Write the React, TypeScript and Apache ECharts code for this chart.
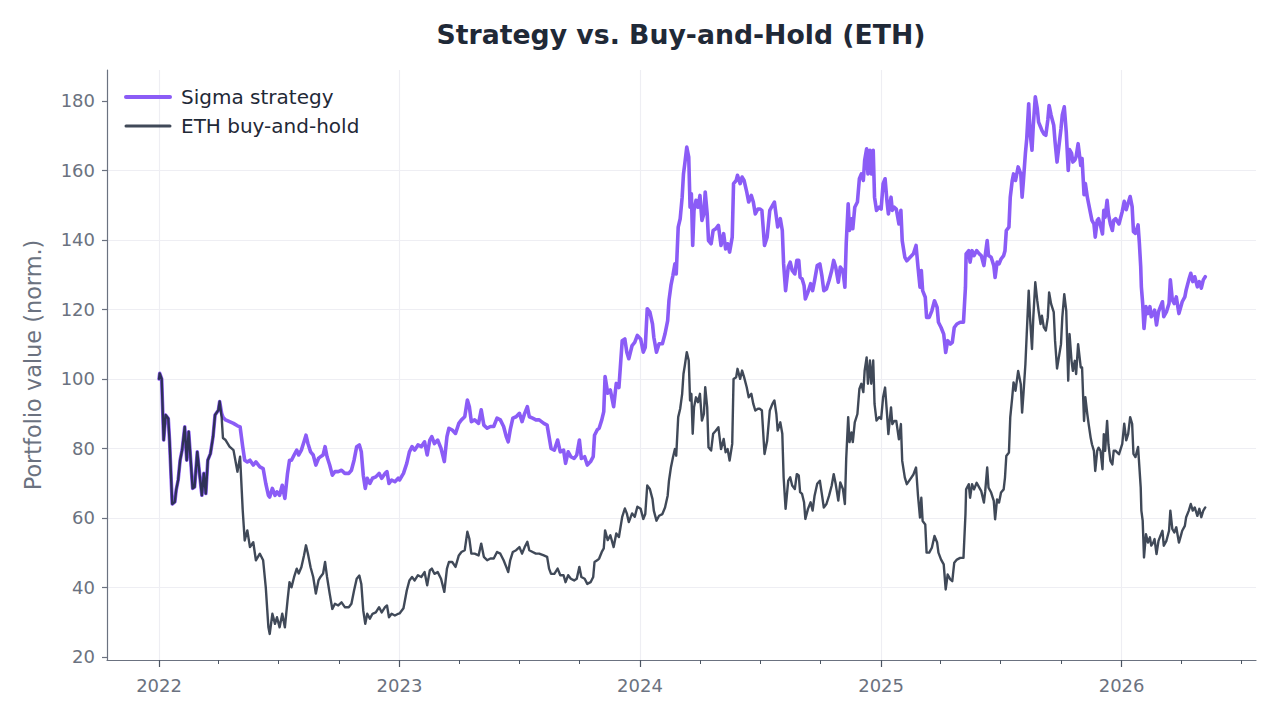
import { useEffect, useRef } from "react";
import * as echarts from "echarts";

// [date, sigma strategy, eth buy-and-hold]
type Row = [string, number, number];

const ROWS_2022: Row[] = [
  ["2022-01-01", 100, 100], ["2022-01-02", 101.6, 101.6], ["2022-01-05", 100, 100],
  ["2022-01-08", 82.4, 82.4], ["2022-01-11", 89.6, 89.6], ["2022-01-15", 88.6, 88.6],
  ["2022-01-17", 82, 82], ["2022-01-21", 64, 64], ["2022-01-25", 64.6, 64.6],
  ["2022-01-27", 68, 68], ["2022-01-30", 70.9, 70.9], ["2022-02-02", 76.6, 76.6],
  ["2022-02-05", 79.5, 79.5], ["2022-02-09", 86.2, 86.2], ["2022-02-12", 76.6, 76.6],
  ["2022-02-15", 84.8, 84.8], ["2022-02-18", 76.6, 76.6], ["2022-02-21", 68.5, 68.5],
  ["2022-02-24", 68.9, 68.9], ["2022-02-28", 79, 79], ["2022-03-04", 71.8, 71.8],
  ["2022-03-07", 66.5, 66.5], ["2022-03-10", 72.8, 72.8], ["2022-03-13", 67, 67],
  ["2022-03-16", 76.6, 76.6], ["2022-03-20", 78.5, 78.5], ["2022-03-24", 83.4, 83.4],
  ["2022-03-27", 89.6, 89.6], ["2022-04-01", 91, 91], ["2022-04-03", 93.5, 93.5],
  ["2022-04-06", 90.1, 89], ["2022-04-08", 89, 83], ["2022-04-12", 88.2, 82.4],
  ["2022-04-18", 87.7, 80.5], ["2022-04-24", 87.2, 79.5], ["2022-04-30", 86.5, 73.3],
  ["2022-05-04", 86.2, 77.6], ["2022-05-08", 80.5, 62.2], ["2022-05-11", 76.6, 53.5],
  ["2022-05-15", 76.1, 56.4], ["2022-05-19", 76.6, 51.6], ["2022-05-24", 75.2, 53],
  ["2022-05-28", 76.1, 47.8], ["2022-06-03", 74.7, 49.7], ["2022-06-08", 74.2, 47.8],
  ["2022-06-12", 69.9, 40], ["2022-06-16", 66.5, 28.5], ["2022-06-18", 66, 26.6],
  ["2022-06-22", 68.5, 32.4], ["2022-06-26", 66.5, 29.5], ["2022-06-29", 67.5, 31.4],
  ["2022-07-03", 66.5, 28.5], ["2022-07-07", 69.4, 32.4], ["2022-07-11", 65.6, 28.5],
  ["2022-07-15", 72.8, 36.2], ["2022-07-18", 76.6, 41.5], ["2022-07-21", 76.6, 40],
  ["2022-07-25", 78.1, 43], ["2022-07-29", 79.5, 45.4], ["2022-08-01", 78.1, 44],
  ["2022-08-05", 79.5, 45.8], ["2022-08-09", 81.9, 49.2], ["2022-08-12", 83.8, 52.1],
  ["2022-08-15", 81.4, 49.7], ["2022-08-19", 79, 45.8], ["2022-08-23", 78.1, 43],
  ["2022-08-27", 75.2, 38.2], ["2022-08-31", 77.1, 42], ["2022-09-03", 77.6, 43],
  ["2022-09-07", 78.1, 44], ["2022-09-10", 80.5, 47.3], ["2022-09-13", 77.6, 43],
  ["2022-09-17", 75.2, 38.2], ["2022-09-21", 72.3, 33.8], ["2022-09-25", 73.3, 35.3],
  ["2022-09-30", 73.3, 34.8], ["2022-10-05", 73.7, 35.7], ["2022-10-10", 72.8, 34.3],
  ["2022-10-16", 72.8, 34.3], ["2022-10-20", 73.7, 35.3], ["2022-10-24", 76.6, 39.1],
  ["2022-10-28", 80.5, 42.5], ["2022-11-01", 81, 43.4], ["2022-11-04", 79, 41],
  ["2022-11-07", 72.3, 33.3], ["2022-11-10", 68.5, 29.5], ["2022-11-13", 71.4, 32.4],
  ["2022-11-17", 69.9, 31], ["2022-11-21", 71.4, 32.4], ["2022-11-26", 71.8, 32.8],
  ["2022-12-01", 72.8, 34.3], ["2022-12-05", 71.4, 32.8], ["2022-12-10", 72.8, 34.3],
  ["2022-12-13", 73.3, 34.8], ["2022-12-16", 69.9, 31.4], ["2022-12-20", 70.9, 32.4],
  ["2022-12-25", 70.4, 31.9], ["2022-12-30", 71.4, 32.4]
];

const ROWS_2023: Row[] = [
  ["2023-01-01", 70.9, 32.5], ["2023-01-07", 72.8, 34], ["2023-01-12", 75.7, 39.1],
  ["2023-01-16", 79, 42], ["2023-01-20", 80.5, 43], ["2023-01-24", 79.5, 42],
  ["2023-01-29", 81, 43.5], ["2023-02-03", 80.5, 43], ["2023-02-08", 81.9, 44.4],
  ["2023-02-12", 78.1, 40.6], ["2023-02-16", 82.4, 44.9], ["2023-02-19", 83.4, 45.4],
  ["2023-02-23", 81.4, 43.9], ["2023-02-28", 82.4, 44.4], ["2023-03-05", 80, 42.5],
  ["2023-03-10", 76.2, 38.7], ["2023-03-14", 83.4, 45.4], ["2023-03-17", 85.8, 47.3],
  ["2023-03-22", 85.3, 47.3], ["2023-03-27", 84.3, 45.9], ["2023-04-01", 87.2, 49.2],
  ["2023-04-05", 88.2, 50.2], ["2023-04-10", 89.1, 50.7], ["2023-04-14", 93.9, 56],
  ["2023-04-17", 92, 54], ["2023-04-20", 87.7, 49.7], ["2023-04-25", 88.2, 49.7],
  ["2023-05-01", 87.2, 49.2], ["2023-05-05", 91.1, 52.6], ["2023-05-09", 86.7, 48.8],
  ["2023-05-14", 85.8, 47.8], ["2023-05-19", 86.3, 48.3], ["2023-05-24", 86.3, 48.3],
  ["2023-05-29", 88.7, 50.2], ["2023-06-03", 88.2, 49.7], ["2023-06-08", 86.3, 47.8],
  ["2023-06-12", 83.4, 45.9], ["2023-06-15", 81.9, 44.4], ["2023-06-18", 85.3, 47.8],
  ["2023-06-22", 88.7, 50.2], ["2023-06-27", 89.1, 50.7], ["2023-07-02", 90.1, 51.6],
  ["2023-07-06", 87.7, 49.7], ["2023-07-10", 90.1, 51.6], ["2023-07-14", 92, 53.1],
  ["2023-07-17", 89.1, 50.7], ["2023-07-22", 88.7, 50.2], ["2023-07-27", 88.2, 49.7],
  ["2023-08-01", 88.2, 49.7], ["2023-08-08", 87.2, 49.2], ["2023-08-13", 86.7, 48.8],
  ["2023-08-16", 83.4, 45.4], ["2023-08-19", 80, 43.9], ["2023-08-24", 79.5, 43.9],
  ["2023-08-29", 82.4, 45.4], ["2023-09-02", 79, 43.5], ["2023-09-07", 79.5, 43.5],
  ["2023-09-10", 75.7, 41.5], ["2023-09-14", 79, 43.5], ["2023-09-18", 77.6, 42.5],
  ["2023-09-23", 77.1, 42], ["2023-09-27", 78.1, 42.5], ["2023-10-01", 82.4, 45.9],
  ["2023-10-04", 77.1, 43], ["2023-10-09", 77.6, 42.5], ["2023-10-13", 75.2, 41],
  ["2023-10-18", 76.2, 41.5], ["2023-10-22", 77.6, 43], ["2023-10-24", 83.8, 47.3],
  ["2023-10-28", 85.3, 47.8], ["2023-10-31", 85.8, 48.3], ["2023-11-04", 88.2, 50.2],
  ["2023-11-07", 90.6, 51.2], ["2023-11-09", 100.7, 56.4], ["2023-11-13", 95.9, 53.6],
  ["2023-11-17", 96.8, 55], ["2023-11-22", 92, 51.6], ["2023-11-26", 98.7, 55.5],
  ["2023-11-30", 97.5, 54.5], ["2023-12-05", 111, 60.3], ["2023-12-09", 111.5, 62.7],
  ["2023-12-12", 107.7, 61.3], ["2023-12-15", 105.8, 58.8], ["2023-12-20", 109.6, 61.3],
  ["2023-12-24", 110.5, 60.3], ["2023-12-28", 112.5, 63.2]
];

const ROWS_2024: Row[] = [
  ["2024-01-02", 111.5, 62.6], ["2024-01-06", 107.7, 59.7], ["2024-01-09", 109.1, 61.1],
  ["2024-01-12", 120.2, 69.3], ["2024-01-16", 119.2, 68.3], ["2024-01-20", 115.8, 65.4],
  ["2024-01-22", 112, 62.1], ["2024-01-26", 107.7, 59.2], ["2024-01-30", 110.1, 60.6],
  ["2024-02-04", 110.1, 61.1], ["2024-02-08", 113, 63], ["2024-02-12", 116.8, 66.4],
  ["2024-02-14", 122.6, 70.7], ["2024-02-17", 126.9, 74.6], ["2024-02-20", 129.8, 77.4],
  ["2024-02-23", 133.1, 79.8], ["2024-02-25", 130.2, 77.9], ["2024-02-28", 143.7, 89],
  ["2024-03-02", 146.1, 91.4], ["2024-03-05", 152.3, 95.7], ["2024-03-07", 159, 101.4],
  ["2024-03-09", 161.9, 103.8], ["2024-03-12", 166.7, 107.7], ["2024-03-15", 163.8, 105.3],
  ["2024-03-17", 149.4, 93.8], ["2024-03-19", 153.3, 95.7], ["2024-03-21", 138.4, 84.2],
  ["2024-03-23", 148.5, 91.8], ["2024-03-26", 151.4, 94.7], ["2024-03-29", 149.4, 93.3],
  ["2024-04-01", 152.8, 95.7], ["2024-04-04", 145.6, 88], ["2024-04-07", 147.5, 89.9],
  ["2024-04-09", 153.8, 97.6], ["2024-04-12", 147.5, 91.8], ["2024-04-14", 139.8, 80.3],
  ["2024-04-18", 138.9, 79.4], ["2024-04-21", 142.7, 84.2], ["2024-04-25", 143.2, 85.1],
  ["2024-04-29", 144.2, 86.1], ["2024-05-03", 138.4, 79.8], ["2024-05-07", 141.8, 82.7],
  ["2024-05-10", 137.4, 78.9], ["2024-05-13", 138.9, 79.8], ["2024-05-16", 136.5, 76.5],
  ["2024-05-20", 140.8, 81.3], ["2024-05-22", 156.2, 100], ["2024-05-26", 157.1, 100.5],
  ["2024-05-28", 158.6, 102.9], ["2024-06-01", 156.2, 100], ["2024-06-04", 158.1, 102.4],
  ["2024-06-07", 157.1, 100.5], ["2024-06-11", 153.8, 97.6], ["2024-06-14", 150.9, 94.7],
  ["2024-06-18", 152.8, 95.7], ["2024-06-21", 150.9, 92.8], ["2024-06-24", 147.5, 90.9],
  ["2024-06-28", 148.9, 91.4], ["2024-07-01", 148.9, 91.4], ["2024-07-04", 148.5, 90.9],
  ["2024-07-08", 138.4, 78.4], ["2024-07-12", 140.8, 82.2], ["2024-07-16", 148.5, 90.9],
  ["2024-07-20", 149.9, 92.8], ["2024-07-23", 150.9, 93.8], ["2024-07-26", 146.6, 89.9],
  ["2024-07-28", 143.7, 85.1], ["2024-08-01", 146.1, 87.5], ["2024-08-04", 142.7, 84.2],
  ["2024-08-06", 133.1, 71.7], ["2024-08-09", 125.4, 62.6], ["2024-08-13", 132.2, 70.7],
  ["2024-08-16", 133.6, 71.7], ["2024-08-19", 131.2, 69.3], ["2024-08-23", 130.2, 68.3],
  ["2024-08-26", 134.1, 72.6], ["2024-08-29", 134.1, 72.2], ["2024-08-31", 129.3, 67.4],
  ["2024-09-03", 128.8, 66.9], ["2024-09-06", 126.9, 64.5], ["2024-09-08", 123, 59.7],
  ["2024-09-12", 125, 62.6], ["2024-09-16", 127.4, 64.5], ["2024-09-19", 125.4, 62.1],
  ["2024-09-22", 128.3, 66.4], ["2024-09-26", 132.6, 69.8], ["2024-09-30", 133.1, 70.7],
  ["2024-10-03", 129.8, 66.9], ["2024-10-06", 125.4, 63], ["2024-10-10", 125.9, 64],
  ["2024-10-14", 128.3, 66.4], ["2024-10-18", 131.2, 69.3], ["2024-10-21", 134.1, 72.6],
  ["2024-10-24", 132.2, 69.8], ["2024-10-28", 127.8, 65], ["2024-10-31", 132.2, 70.2],
  ["2024-11-04", 131.2, 68.3], ["2024-11-07", 126.4, 64], ["2024-11-09", 138.9, 77],
  ["2024-11-12", 150.4, 89], ["2024-11-14", 142.7, 81.8], ["2024-11-17", 146.1, 84.6],
  ["2024-11-19", 143.2, 81.8], ["2024-11-22", 149.4, 87.5], ["2024-11-26", 150.9, 89.9],
  ["2024-11-29", 157.6, 97.1], ["2024-12-02", 159, 98.6], ["2024-12-05", 157.1, 96.2],
  ["2024-12-07", 162.9, 102.4], ["2024-12-10", 166.2, 106.2], ["2024-12-12", 159, 98.6],
  ["2024-12-15", 165.8, 105.3], ["2024-12-17", 159, 98.6], ["2024-12-20", 165.8, 105.3],
  ["2024-12-22", 152.3, 92.8], ["2024-12-25", 148.5, 88], ["2024-12-29", 149.4, 89]
];

const ROWS_2025: Row[] = [
  ["2025-01-01", 148.9, 88.5], ["2025-01-04", 156.2, 94.7], ["2025-01-07", 157.6, 97.5],
  ["2025-01-10", 150.9, 89.8], ["2025-01-12", 147.5, 84.1], ["2025-01-16", 152.3, 91.8],
  ["2025-01-18", 148.5, 87], ["2025-01-21", 149.4, 87.9], ["2025-01-24", 148.9, 87.9],
  ["2025-01-28", 144.6, 82.6], ["2025-01-31", 148.5, 87], ["2025-02-02", 139.8, 76.4],
  ["2025-02-06", 135, 71.6], ["2025-02-09", 134, 69.7], ["2025-02-14", 135, 71.1],
  ["2025-02-19", 136, 72.5], ["2025-02-23", 138.4, 74.5], ["2025-02-26", 132.1, 66.3],
  ["2025-03-01", 126.4, 60.1], ["2025-03-03", 131.2, 65.8], ["2025-03-05", 125.4, 59.1],
  ["2025-03-09", 123.5, 58.1], ["2025-03-11", 117.7, 50], ["2025-03-15", 117.7, 50],
  ["2025-03-19", 119.6, 51.4], ["2025-03-23", 122.5, 54.8], ["2025-03-27", 120.6, 52.9],
  ["2025-03-29", 116.3, 50], ["2025-04-02", 114.8, 48], ["2025-04-06", 112.9, 46.6],
  ["2025-04-09", 107.6, 39.4], ["2025-04-12", 111, 43.7], ["2025-04-16", 110, 42.3],
  ["2025-04-19", 110.5, 41.8], ["2025-04-22", 114.8, 47.1], ["2025-04-26", 115.8, 48],
  ["2025-05-01", 116.3, 48.5], ["2025-05-06", 116.3, 48.5], ["2025-05-09", 126.4, 61],
  ["2025-05-10", 136, 68.2], ["2025-05-14", 136.9, 69.7], ["2025-05-16", 133.6, 65.8],
  ["2025-05-19", 136.9, 69.7], ["2025-05-22", 135.5, 68.2], ["2025-05-26", 136.9, 70.1],
  ["2025-05-30", 136, 68.7], ["2025-06-02", 135.5, 67.7], ["2025-06-06", 132.6, 64.4],
  ["2025-06-08", 135.5, 67.7], ["2025-06-11", 139.8, 74.5], ["2025-06-13", 135.5, 68.7],
  ["2025-06-17", 135, 67.3], ["2025-06-21", 132.6, 64.9], ["2025-06-23", 129.2, 59.6],
  ["2025-06-26", 133.6, 65.3], ["2025-06-29", 133.1, 64.4], ["2025-07-02", 134.5, 67.3],
  ["2025-07-06", 135.5, 68.2], ["2025-07-08", 136.9, 71.6], ["2025-07-10", 142.7, 77.8],
  ["2025-07-14", 143.7, 78.8], ["2025-07-16", 152.3, 88.9], ["2025-07-19", 157.1, 94.7],
  ["2025-07-21", 159, 99], ["2025-07-24", 157.1, 96.6], ["2025-07-28", 161, 102.3],
  ["2025-08-01", 159, 98.5], ["2025-08-03", 152.3, 90.3], ["2025-08-05", 157.1, 95.6],
  ["2025-08-08", 165, 104.3], ["2025-08-10", 169.1, 112.9], ["2025-08-13", 179.2, 125.4],
  ["2025-08-15", 171, 117.7], ["2025-08-18", 165.8, 108.6], ["2025-08-20", 173, 117.7],
  ["2025-08-23", 181.2, 127.8], ["2025-08-26", 177.8, 122.5], ["2025-08-28", 173.9, 119.6],
  ["2025-08-31", 172.5, 115.8], ["2025-09-02", 171.5, 118.2], ["2025-09-05", 170.5, 114.8],
  ["2025-09-08", 170.1, 113.9], ["2025-09-11", 174.5, 117.7], ["2025-09-13", 178.7, 124.9],
  ["2025-09-16", 175.9, 121.6], ["2025-09-20", 173, 119.2], ["2025-09-22", 168.2, 111],
  ["2025-09-25", 162.4, 103], ["2025-10-01", 172, 110], ["2025-10-03", 176, 117.7],
  ["2025-10-06", 178.3, 124.4], ["2025-10-09", 171, 119.6], ["2025-10-12", 160, 99.5],
  ["2025-10-14", 166, 112.9], ["2025-10-17", 165, 105.2], ["2025-10-19", 162.4, 102.3],
  ["2025-10-22", 163, 105.2], ["2025-10-24", 164, 101.4], ["2025-10-27", 167.7, 110],
  ["2025-10-31", 161.4, 103.3], ["2025-11-02", 163.4, 103.3], ["2025-11-05", 153, 87.9],
  ["2025-11-07", 156.2, 94.7], ["2025-11-10", 152.3, 89.8], ["2025-11-12", 150.4, 87],
  ["2025-11-15", 147.5, 83.1], ["2025-11-17", 145.6, 81.2], ["2025-11-20", 144.6, 79.3],
  ["2025-11-22", 140.8, 73.5], ["2025-11-25", 145.6, 79.3], ["2025-11-27", 146.1, 80.2],
  ["2025-11-30", 144.1, 79.3], ["2025-12-03", 141.7, 74], ["2025-12-05", 148.5, 84.1],
  ["2025-12-07", 146.5, 79.3], ["2025-12-10", 151.4, 87.9], ["2025-12-12", 147.5, 81.2],
  ["2025-12-15", 144.6, 76.4], ["2025-12-18", 142.7, 75.4], ["2025-12-20", 145.6, 79.3],
  ["2025-12-23", 146.1, 79.3], ["2025-12-28", 144.6, 78.3]
];

const ROWS_2026: Row[] = [
  ["2026-01-02", 148.2, 81.3], ["2026-01-05", 151.1, 87.1], ["2026-01-08", 148.7, 82.3],
  ["2026-01-11", 150.6, 84.2], ["2026-01-14", 152.5, 89], ["2026-01-17", 149.6, 87.1],
  ["2026-01-19", 142.4, 78.4], ["2026-01-22", 141.9, 77.5], ["2026-01-26", 144.3, 80.4],
  ["2026-01-28", 139, 74.6], ["2026-01-30", 132.3, 68.8], ["2026-01-31", 126.5, 62.1],
  ["2026-02-02", 121.7, 59.2], ["2026-02-04", 114.5, 48.6], ["2026-02-07", 120.8, 55.3],
  ["2026-02-10", 118.8, 52.9], ["2026-02-13", 120.8, 54.4], ["2026-02-15", 117.9, 52],
  ["2026-02-18", 118.8, 52.9], ["2026-02-20", 119.8, 53.9], ["2026-02-23", 115.5, 49.6],
  ["2026-02-26", 119.3, 53.4], ["2026-03-01", 120.8, 54.9], ["2026-03-04", 122.2, 56.3],
  ["2026-03-06", 117.9, 52], ["2026-03-10", 119.3, 53.4], ["2026-03-14", 121.7, 56.3],
  ["2026-03-16", 128.5, 62.1], ["2026-03-19", 122.7, 56.8], ["2026-03-22", 121.7, 55.8],
  ["2026-03-25", 123.6, 57.3], ["2026-03-29", 118.8, 52.9], ["2026-04-01", 120.8, 54.9],
  ["2026-04-03", 122.2, 56.3], ["2026-04-07", 123.6, 57.7], ["2026-04-09", 125.6, 60.2],
  ["2026-04-13", 128.5, 62.1], ["2026-04-16", 130.4, 64], ["2026-04-19", 128, 62.1],
  ["2026-04-22", 129.4, 63], ["2026-04-26", 126.5, 60.6], ["2026-04-29", 128, 62.6],
  ["2026-05-02", 126.1, 60.2], ["2026-05-05", 128.5, 62.1], ["2026-05-08", 129.4, 63]
];

const ROWS: Row[] = [...ROWS_2022, ...ROWS_2023, ...ROWS_2024, ...ROWS_2025, ...ROWS_2026];

const SERIES_NAMES = ["Sigma strategy", "ETH buy-and-hold"];
const Y_TICKS = [20, 40, 60, 80, 100, 120, 140, 160, 180];
const YEAR_TICKS = ["2022-01-01", "2023-01-01", "2024-01-01", "2025-01-01", "2026-01-01"];
const QUARTER_TICKS = [
  "2022-04-01", "2022-07-01", "2022-10-01",
  "2023-04-01", "2023-07-01", "2023-10-01",
  "2024-04-01", "2024-07-01", "2024-10-01",
  "2025-04-01", "2025-07-01", "2025-10-01",
  "2026-04-01", "2026-07-01"
];
const X_RANGE = ["2021-10-14", "2026-07-24"];
const Y_RANGE = [19.1, 188.9];

const FONT = "DejaVu Sans";
const PURPLE = "#8b5cf6";
const SLATE = "rgba(30, 41, 59, 0.85)";
const AXIS_COLOR = "#6b7280";
const TICK_COLOR = "#4b5563";
const GRID_COLOR = "#eeeef3";
const TEXT_DARK = "#1f2937";

const toTime = (s: string) => {
  const [y, m, d] = s.split("-").map(Number);
  return new Date(y, m - 1, d).getTime();
};

function buildOption() {
  const xMin = toTime(X_RANGE[0]);
  const xMax = toTime(X_RANGE[1]);
  return {
    animation: false,
    backgroundColor: "#ffffff",
    textStyle: { fontFamily: FONT },
    title: {
      text: "Strategy vs. Buy-and-Hold (ETH)",
      left: 676,
      top: 16,
      textAlign: "center",
      textStyle: { fontFamily: FONT, fontSize: 26.7, fontWeight: "bold", color: TEXT_DARK }
    },
    legend: {
      orient: "vertical",
      left: 119,
      top: 82,
      itemWidth: 44,
      itemHeight: 14,
      itemGap: 9,
      selectedMode: false,
      textStyle: { fontFamily: FONT, fontSize: 20, color: TEXT_DARK, padding: [0, 0, 0, 6] },
      // the symbol part of the line icon is hidden, only the stroke is kept
      data: [
        {
          name: SERIES_NAMES[0],
          lineStyle: { width: 4, color: PURPLE },
          itemStyle: { opacity: 0 }
        },
        {
          name: SERIES_NAMES[1],
          lineStyle: { width: 3, color: SLATE },
          itemStyle: { opacity: 0 }
        }
      ]
    },
    grid: { left: 107, right: 24, top: 70, bottom: 60, outerBoundsMode: "none" },
    // dates are plotted as timestamps on linear axes so tick positions can be fixed
    xAxis: [
      {
        type: "value",
        min: xMin,
        max: xMax,
        axisLine: { show: true, onZero: false, lineStyle: { color: AXIS_COLOR, width: 1.2 } },
        axisTick: {
          show: true,
          customValues: YEAR_TICKS.map(toTime),
          length: 7,
          lineStyle: { color: TICK_COLOR, width: 1.2 }
        },
        axisLabel: {
          customValues: YEAR_TICKS.map(toTime),
          formatter: (v: number) => String(new Date(v).getFullYear()),
          color: AXIS_COLOR,
          fontFamily: FONT,
          fontSize: 18,
          margin: 16
        },
        splitLine: { show: true, lineStyle: { color: GRID_COLOR, width: 1.2 } }
      },
      {
        type: "value",
        min: xMin,
        max: xMax,
        position: "bottom",
        axisLine: { show: false, onZero: false },
        axisTick: {
          show: true,
          customValues: QUARTER_TICKS.map(toTime),
          length: 4,
          lineStyle: { color: TICK_COLOR, width: 1 }
        },
        axisLabel: { show: false },
        splitLine: { show: false }
      }
    ],
    yAxis: {
      type: "value",
      min: Y_RANGE[0],
      max: Y_RANGE[1],
      minInterval: 20,
      maxInterval: 20,
      name: "Portfolio value (norm.)",
      nameLocation: "middle",
      nameGap: 63,
      nameTextStyle: { fontFamily: FONT, fontSize: 22.4, color: AXIS_COLOR },
      axisLine: { show: true, onZero: false, lineStyle: { color: AXIS_COLOR, width: 1.2 } },
      axisTick: {
        show: true,
        customValues: Y_TICKS,
        length: 5,
        lineStyle: { color: AXIS_COLOR, width: 1.2 }
      },
      axisLabel: {
        customValues: Y_TICKS,
        color: AXIS_COLOR,
        fontFamily: FONT,
        fontSize: 18,
        margin: 12
      },
      splitLine: {
        show: true,
        showMinLine: false,
        showMaxLine: false,
        lineStyle: { color: GRID_COLOR, width: 1.2 }
      }
    },
    series: [
      {
        name: SERIES_NAMES[0],
        type: "line",
        xAxisIndex: 0,
        data: ROWS.map((r) => [toTime(r[0]), r[1]]),
        symbol: "none",
        silent: true,
        z: 2,
        lineStyle: { color: PURPLE, width: 3.6, join: "round", cap: "round" },
        itemStyle: { color: PURPLE }
      },
      {
        name: SERIES_NAMES[1],
        type: "line",
        xAxisIndex: 0,
        data: ROWS.map((r) => [toTime(r[0]), r[2]]),
        symbol: "none",
        silent: true,
        z: 3,
        lineStyle: { color: SLATE, width: 2.4, join: "round", cap: "round" },
        itemStyle: { color: SLATE }
      }
    ]
  };
}

export default function App() {
  const hostRef = useRef<HTMLDivElement>(null);

  useEffect(() => {
    const host = hostRef.current;
    if (host === null) return;
    const chart = echarts.init(host, undefined, { renderer: "svg" });
    chart.setOption(buildOption());
    return () => chart.dispose();
  }, []);

  return (
    <div
      ref={hostRef}
      style={{ position: "fixed", left: 0, top: 0, width: 1280, height: 720, background: "#fff" }}
    />
  );
}
